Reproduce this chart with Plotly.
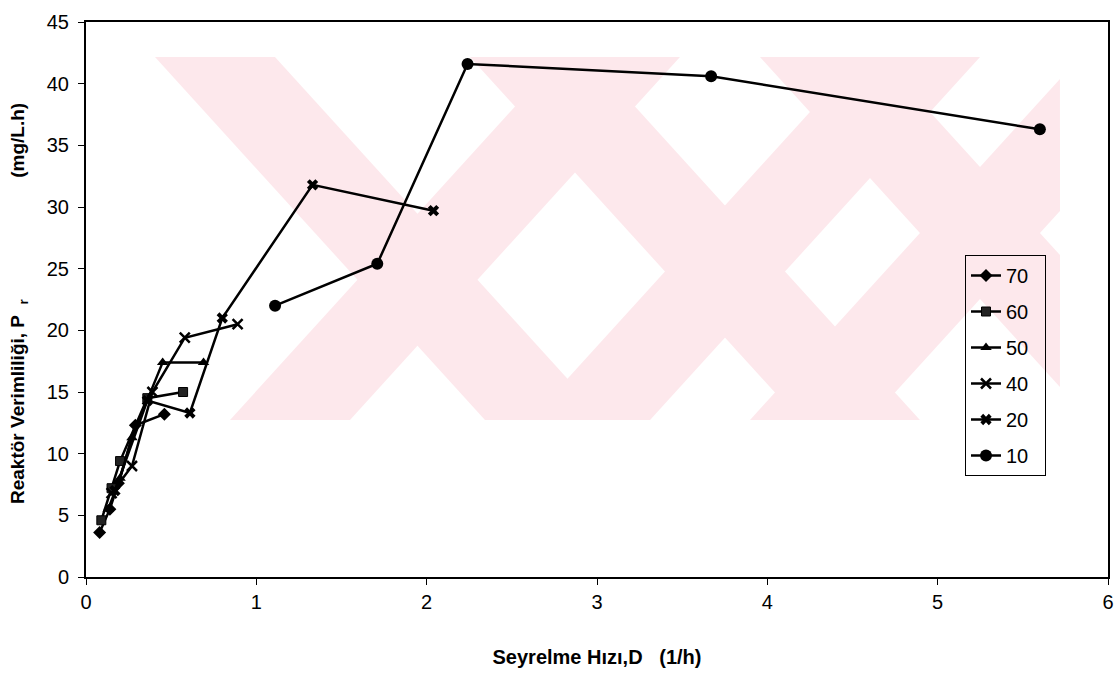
import plotly.graph_objects as go

# ---- data ----
d70 = [0.08, 0.14, 0.19, 0.29, 0.46]
p70 = [3.6, 5.5, 7.6, 12.3, 13.2]
d60 = [0.09, 0.15, 0.20, 0.36, 0.57]
p60 = [4.6, 7.2, 9.4, 14.5, 15.0]
d50 = [0.13, 0.20, 0.27, 0.45, 0.69]
p50 = [5.5, 8.0, 11.3, 17.4, 17.4]
d40 = [0.15, 0.27, 0.39, 0.58, 0.89]
p40 = [6.8, 9.0, 15.0, 19.4, 20.5]
d20 = [0.17, 0.36, 0.61, 0.80, 1.33, 2.04]
p20 = [7.0, 14.3, 13.3, 21.0, 31.8, 29.7]
d10 = [1.11, 1.71, 2.24, 3.67, 5.60]
p10 = [22.0, 25.4, 41.6, 40.6, 36.3]
series_names = ["70", "60", "50", "40", "20", "10"]
x_ticks = [0, 1, 2, 3, 4, 5, 6]
y_ticks = [0, 5, 10, 15, 20, 25, 30, 35, 40, 45]

W, H = 1116, 673
L, R, T, B = 86, 1108, 22, 577
NB = "\u00a0"

fig = go.Figure()

styles = [
    (d70, p70, dict(symbol="diamond", size=10, color="black")),
    (d60, p60, dict(symbol="square", size=9, color="#222", line=dict(color="black", width=1))),
    (d50, p50, dict(symbol="triangle-up", size=10, color="black")),
    (d40, p40, dict(symbol="x-thin", size=10, color="black", line=dict(color="black", width=2.5))),
    (d20, p20, dict(symbol="x", size=10, color="black")),
    (d10, p10, dict(symbol="circle", size=12, color="black")),
]
for name, (xs, ys, mk) in zip(series_names, styles):
    fig.add_trace(go.Scatter(x=xs, y=ys, mode="lines+markers", name=name + NB * 2, legendgroup=name,
                             line=dict(color="black", width=2.5), marker=mk))

# ---- watermark (decorative pink bands) ----
def clip(poly, xmin, xmax, ymin, ymax):
    def clip_edge(pts, inside, inter):
        out = []
        for i in range(len(pts)):
            cur, prev = pts[i], pts[i - 1]
            if inside(cur):
                if not inside(prev):
                    out.append(inter(prev, cur))
                out.append(cur)
            elif inside(prev):
                out.append(inter(prev, cur))
        return out
    def ix(a, b, xv):
        t = (xv - a[0]) / (b[0] - a[0]); return (xv, a[1] + t * (b[1] - a[1]))
    def iy(a, b, yv):
        t = (yv - a[1]) / (b[1] - a[1]); return (a[0] + t * (b[0] - a[0]), yv)
    pts = poly
    pts = clip_edge(pts, lambda p: p[0] >= xmin, lambda a, b: ix(a, b, xmin))
    if pts: pts = clip_edge(pts, lambda p: p[0] <= xmax, lambda a, b: ix(a, b, xmax))
    if pts: pts = clip_edge(pts, lambda p: p[1] >= ymin, lambda a, b: iy(a, b, ymin))
    if pts: pts = clip_edge(pts, lambda p: p[1] <= ymax, lambda a, b: iy(a, b, ymax))
    return pts

wx0, wx1, wy0, wy1 = 155, 1060, 57, 420
bw = 120
shift = 330
bands = []
for t in [155, 470, 760]:
    bands.append([(t, wy0), (t + bw, wy0), (t + bw + shift, wy1), (t + shift, wy1)])
for t in [560, 860, 1080]:
    bands.append([(t, wy0), (t + bw, wy0), (t + bw - shift, wy1), (t - shift, wy1)])
for poly in bands:
    pts = clip(poly, wx0, wx1, wy0, wy1)
    if len(pts) < 3:
        continue
    path = "M " + " L ".join(f"{(px - L) / (R - L):.4f},{(B - py) / (B - T):.4f}" for px, py in pts) + " Z"
    fig.add_shape(type="path", path=path, xref="paper", yref="paper",
                  fillcolor="#fde8ec", line=dict(width=0), layer="below")

fig.update_layout(
    width=W, height=H,
    margin=dict(l=L, r=W - R, t=T, b=H - B, autoexpand=False),
    paper_bgcolor="white", plot_bgcolor="white",
    font=dict(family="Liberation Sans, Arial", color="black", size=20),
    showlegend=True,
    legend=dict(x=(965 - L) / (R - L), y=(B - 255) / (B - T), xanchor="left", yanchor="top",
                bgcolor="rgba(0,0,0,0)", bordercolor="black", borderwidth=1,
                font=dict(size=20), tracegroupgap=7, itemwidth=30),
)
fig.add_annotation(
    text=f"<b>Reaktör Verimliliği, P{NB}{NB}<sub>r</sub>{NB*23}(mg/L.h)</b>",
    xref="paper", yref="paper", x=(19 - L) / (R - L), y=(B - 304) / (B - T),
    xanchor="center", yanchor="middle", textangle=-90, showarrow=False,
    font=dict(size=19, color="black"))
fig.update_xaxes(range=[0, 6], tickvals=x_ticks, showline=True, linecolor="black", linewidth=2,
                 mirror=True, ticks="outside", ticklen=6, tickcolor="black", showgrid=False,
                 zeroline=False, automargin=False, tickfont=dict(size=20),
                 title=dict(text=f"<b>Seyrelme{NB}Hızı,D{NB}{NB}{NB}(1/h)</b>", font=dict(size=20), standoff=38))
fig.update_yaxes(range=[0, 45], tickvals=y_ticks, showline=True, linecolor="black", linewidth=2,
                 mirror=True, ticks="outside", ticklen=6, tickcolor="black", showgrid=False,
                 zeroline=False, automargin=False, tickfont=dict(size=20), ticklabelstandoff=5)

fig.write_html("out.html", config={"displayModeBar": False},
               post_script="document.body.style.margin='0px';")
